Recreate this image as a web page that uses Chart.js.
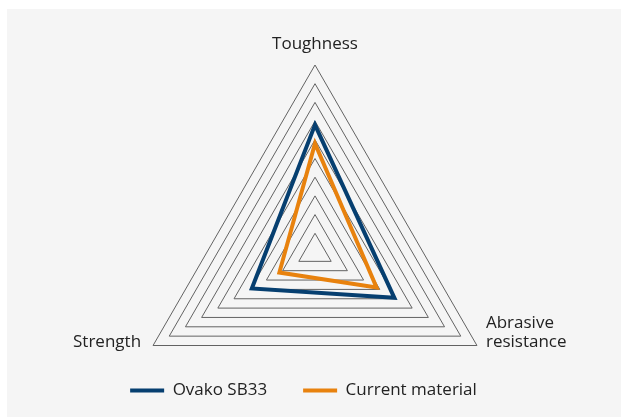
<!DOCTYPE html>
<html lang="en">
<head>
  <meta charset="UTF-8">
  <title>Ovako SB33 vs current material</title>
  <script src="https://cdn.jsdelivr.net/npm/chart.js"></script>
  <style>
    body { margin: 0; background: #ffffff; }
    .chart-box { position: absolute; left: 7px; top: 9px; width: 614px; height: 408px; background: #f5f5f5; }
  </style>
</head>
<body>
  <div class="chart-box">
    <canvas id="radar"></canvas>
  </div>

  <script>
    // categories and values (scale 0-10)
    const axes = ['Toughness', ['Abrasive', 'resistance'], 'Strength'];
    const ovako = [6.8, 4.9, 3.9];
    const current = [5.8, 3.8, 2.2];

    const blue = '#063f70';
    const orange = '#e8820e';

    // draws the axis names next to the outer triangle corners
    const axisNames = {
      id: 'axisNames',
      afterDraw(chart) {
        const s = chart.scales.r;
        const c = chart.ctx;
        c.save();
        c.font = '17px "Open Sans"';
        c.fillStyle = '#222222';
        c.textBaseline = 'alphabetic';
        const top = s.getPointPosition(0, s.drawingArea);
        c.textAlign = 'center';
        c.fillText(axes[0], top.x, top.y - 16);
        const right = s.getPointPosition(1, s.drawingArea);
        c.textAlign = 'left';
        c.fillText(axes[1][0], right.x + 9, right.y - 18);
        c.fillText(axes[1][1], right.x + 9, right.y + 1);
        const left = s.getPointPosition(2, s.drawingArea);
        c.textAlign = 'right';
        c.fillText(axes[2], left.x - 12, left.y + 1);
        c.restore();
      }
    };

    new Chart(document.getElementById('radar'), {
      type: 'radar',
      data: {
        labels: axes,
        datasets: [
          {
            label: 'Ovako SB33',
            data: ovako,
            borderColor: blue,
            backgroundColor: blue,
            borderWidth: 4,
            fill: false,
            pointRadius: 0,
            borderJoinStyle: 'miter'
          },
          {
            label: 'Current material',
            data: current,
            borderColor: orange,
            backgroundColor: orange,
            borderWidth: 4,
            fill: false,
            pointRadius: 0,
            borderJoinStyle: 'miter'
          }
        ]
      },
      options: {
        responsive: true,
        maintainAspectRatio: false,
        animation: false,
        layout: { padding: { right: 21, bottom: 8 } },
        scales: {
          r: {
            min: 0,
            max: 10,
            ticks: { display: false, stepSize: 1 },
            grid: { circular: false, color: '#626262', lineWidth: 1 },
            angleLines: { display: false },
            pointLabels: { display: false },
            afterFit: (s) => {
              s.xCenter = 308;
              s.yCenter = 243;
              s.drawingArea = 187;
            }
          }
        },
        plugins: {
          legend: {
            position: 'bottom',
            labels: {
              usePointStyle: true,
              pointStyle: 'line',
              pointStyleWidth: 34,
              padding: 36,
              color: '#222222',
              font: { family: 'Open Sans', size: 17 }
            }
          },
          tooltip: { enabled: false }
        }
      },
      plugins: [axisNames]
    });
  </script>
</body>
</html>
